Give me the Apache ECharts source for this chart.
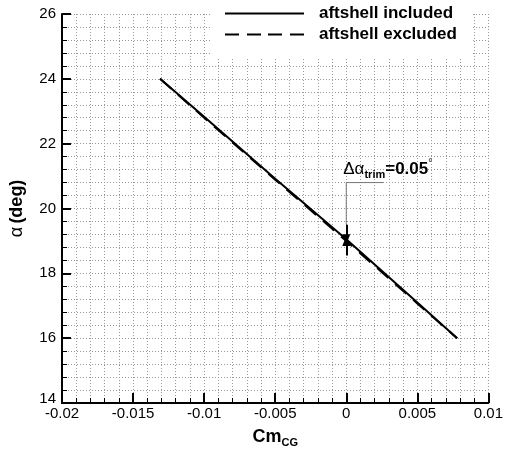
<!DOCTYPE html>
<html>
<head>
<meta charset="utf-8">
<script src="https://cdn.jsdelivr.net/npm/echarts@6/dist/echarts.min.js"></script>
<style>
  html, body { margin: 0; padding: 0; background: #fff; }
  #chart { width: 506px; height: 453px; }
</style>
</head>
<body>
<div id="chart"></div>
<script>
// Cm_CG values along the curve
const cm = [-0.0131, -0.01, -0.005, 0, 0.005, 0.0078];
// alpha (deg) for each case
const alphaIncluded = [24, 22.83, 20.92, 19.05, 17.10, 16.0];
const alphaExcluded = [24, 22.80, 20.89, 19.00, 17.07, 16.0];
const seriesNames = ['aftshell included', 'aftshell excluded'];

// trim annotation
const trimCm = 0;
const trimHigh = 19.05;
const trimLow = 19.0;
const noteLevel = 20.8;
const noteEnd = 0.0026;

const font = '"Liberation Sans", Arial, sans-serif';
const pairs = (xs, ys) => xs.map((x, i) => [x, ys[i]]);
const gridLine = { show: true, lineStyle: { color: '#999', type: [1, 2], width: 1 } };

// legend line icons (thin bar inside a 79x14 box)
const solidIcon = 'path://M0,0L0,0.01M0,6L79,6L79,8L0,8ZM79,14L79,13.99';
const dashedIcon = 'path://M0,0L0,0.01M0,6h14v2h-14ZM22,6h14v2h-14ZM43,6h14v2h-14ZM65,6h14v2h-14ZM79,14L79,13.99';

const chart = echarts.init(document.getElementById('chart'));

const option = {
  backgroundColor: '#fff',
  animation: false,
  textStyle: { fontFamily: font },
  grid: { left: 59, right: 15, top: 14, bottom: 44 },
  legend: {
    orient: 'vertical',
    left: 211,
    top: 0,
    padding: [5, 14, 15, 14],
    backgroundColor: '#fff',
    itemWidth: 79,
    itemHeight: 14,
    itemGap: 4,
    textStyle: { fontSize: 17, fontWeight: 'bold', color: '#000', padding: [0, 0, 0, 10] },
    data: [
      { name: seriesNames[0], icon: solidIcon },
      { name: seriesNames[1], icon: dashedIcon }
    ]
  },
  xAxis: {
    type: 'value',
    min: -0.02,
    max: 0.01,
    interval: 0.005,
    name: '{a|Cm}{b|CG}',
    nameLocation: 'middle',
    nameGap: 24,
    nameTextStyle: {
      rich: {
        a: { fontSize: 18, fontWeight: 'bold', color: '#000', fontFamily: font },
        b: { fontSize: 11, fontWeight: 'bold', color: '#000', fontFamily: font, padding: [10, 0, 0, 0] }
      }
    },
    axisLine: { onZero: false, lineStyle: { color: '#000', width: 2 } },
    axisTick: { inside: true, length: 10, lineStyle: { color: '#000', width: 2 } },
    minorTick: { show: true, splitNumber: 5, length: 5, lineStyle: { color: '#000', width: 1 } },
    axisLabel: {
      color: '#000', fontSize: 15, margin: 3,
      formatter: v => String(Number(v.toFixed(4)))
    },
    splitLine: gridLine,
    minorSplitLine: gridLine
  },
  yAxis: {
    type: 'value',
    min: 14,
    max: 26,
    interval: 2,
    name: '{a|α} {b|(deg)}',
    nameLocation: 'middle',
    nameGap: 36,
    nameRotate: 90,
    nameTextStyle: {
      rich: {
        a: { fontSize: 18, color: '#000', fontFamily: font },
        b: { fontSize: 18, fontWeight: 'bold', color: '#000', fontFamily: font }
      }
    },
    axisLine: { onZero: false, lineStyle: { color: '#000', width: 2 } },
    axisTick: { inside: true, length: 9, lineStyle: { color: '#000', width: 2 } },
    minorTick: { show: true, splitNumber: 5, length: 5, lineStyle: { color: '#000', width: 1 } },
    axisLabel: {
      color: '#000', fontSize: 15, margin: 6,
      formatter: v => (v === 14 ? '{lo|14}' : String(v)),
      rich: { lo: { fontSize: 15, color: '#000', fontFamily: font, padding: [0, 0, 9, 0] } }
    },
    splitLine: gridLine,
    minorSplitLine: gridLine
  },
  series: [
    {
      name: seriesNames[0],
      type: 'line',
      symbol: 'none',
      z: 3,
      lineStyle: { color: '#000', width: 2, type: 'solid' },
      itemStyle: { color: '#000' },
      data: pairs(cm, alphaIncluded)
    },
    {
      name: seriesNames[1],
      type: 'line',
      symbol: 'none',
      z: 4,
      lineStyle: { color: '#000', width: 2, type: [15, 9] },
      itemStyle: { color: '#000' },
      data: pairs(cm, alphaExcluded)
    },
    {
      name: 'leader',
      type: 'line',
      symbol: 'none',
      silent: true,
      z: 2,
      lineStyle: { color: '#777', width: 1 },
      data: [[noteEnd, noteLevel], [trimCm, noteLevel], [trimCm, trimHigh + 0.45]],
      markLine: {
        silent: true,
        symbol: ['none', 'triangle'],
        symbolSize: [8, 10],
        label: { show: false },
        lineStyle: { color: '#000', width: 2, type: 'solid' },
        data: [
          [{ coord: [trimCm, trimHigh + 0.45] }, { coord: [trimCm, trimHigh] }],
          [{ coord: [trimCm, trimLow - 0.45] }, { coord: [trimCm, trimLow] }]
        ]
      },
      markPoint: {
        silent: true,
        symbol: 'circle',
        symbolSize: 0,
        data: [{ coord: [trimCm, noteLevel] }],
        label: {
          show: true,
          position: [-3, -24],
          formatter: '{a|Δα}{s|trim}{b|=0.05}{d|°}',
          rich: {
            a: { fontSize: 17, color: '#000', fontFamily: font },
            s: { fontSize: 11, fontWeight: 'bold', color: '#000', fontFamily: font, padding: [10, 0, 0, 0] },
            b: { fontSize: 17, fontWeight: 'bold', color: '#000', fontFamily: font },
            d: { fontSize: 10, color: '#000', fontFamily: font, padding: [0, 0, 12, 0] }
          }
        }
      }
    }
  ]
};

chart.setOption(option);
</script>
</body>
</html>
